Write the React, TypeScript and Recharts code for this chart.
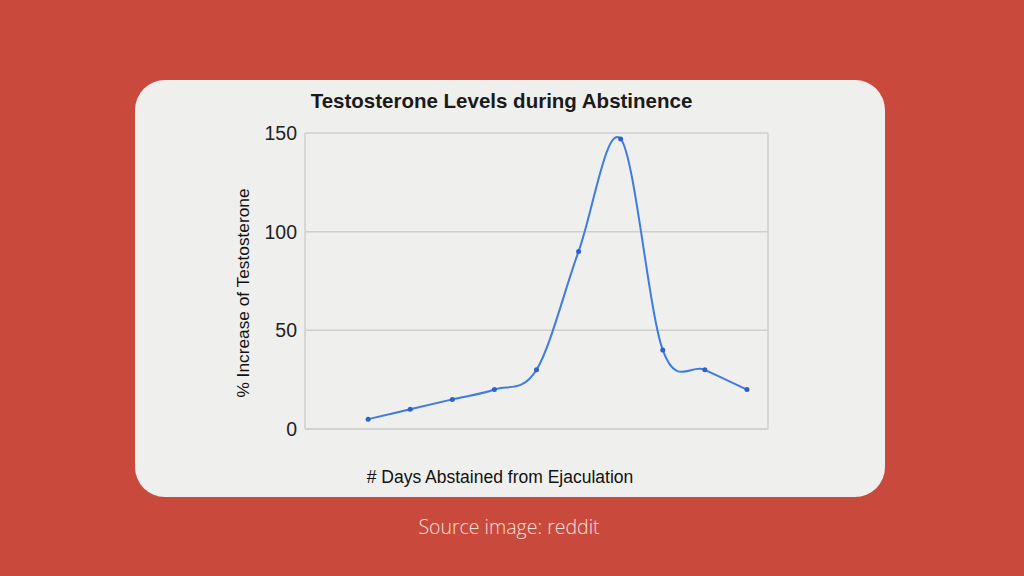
import { LineChart, Line, XAxis, YAxis, CartesianGrid, ReferenceLine, Label } from "recharts";

const days = [1, 2, 3, 4, 5, 6, 7, 8, 9, 10];
const increase = [5, 10, 15, 20, 30, 90, 147, 40, 30, 20];
const yTicks = [0, 50, 100, 150];
// excel puts the tick marks between categories
const xTickMarks = [-0.5, 0.5, 1.5, 2.5, 3.5, 4.5, 5.5, 6.5, 7.5, 8.5, 9.5, 10.5];

const chartTitle = "Testosterone Levels during Abstinence";
const yTitle = "% Increase of Testosterone";
const xTitle = "# Days Abstained from Ejaculation";
const sourceText = "Source image: reddit";

const data = days.map((day, i) => ({ day, value: increase[i] }));

// smoothed line like excel (catmull-rom as cubic beziers)
const excelCurve = (context: any) => {
  let pts: number[][] = [];
  return {
    areaStart() {},
    areaEnd() {},
    lineStart() {
      pts = [];
    },
    lineEnd() {
      const n = pts.length;
      if (!n) return;
      context.moveTo(pts[0][0], pts[0][1]);
      for (let i = 0; i < n - 1; i++) {
        const p0 = pts[i - 1] || pts[i];
        const p1 = pts[i];
        const p2 = pts[i + 1];
        const p3 = pts[i + 2] || p2;
        context.bezierCurveTo(
          p1[0] + (p2[0] - p0[0]) / 6,
          p1[1] + (p2[1] - p0[1]) / 6,
          p2[0] - (p3[0] - p1[0]) / 6,
          p2[1] - (p3[1] - p1[1]) / 6,
          p2[0],
          p2[1]
        );
      }
    },
    point(x: number, y: number) {
      pts.push([+x, +y]);
    },
  };
};

const font = "'Liberation Sans', Arial, sans-serif";
const gridColor = "#cfcfcf";

export default function App() {
  return (
    <div
      style={{
        position: "fixed",
        left: 0,
        top: 0,
        width: 1024,
        height: 576,
        background: "#c9493d",
        overflow: "hidden",
      }}
    >
      <div
        style={{
          position: "absolute",
          left: 135,
          top: 80,
          width: 750,
          height: 417,
          borderRadius: 30,
          background: "#efefed",
          overflow: "hidden",
        }}
      >
        <div
          style={{
            position: "absolute",
            left: 0,
            top: 10,
            width: 733,
            textAlign: "center",
            fontFamily: font,
            fontWeight: 700,
            fontSize: 20.5,
            lineHeight: "22px",
            color: "#1a1a1a",
          }}
        >
          {chartTitle}
        </div>
        <LineChart width={750} height={417} data={data} margin={{ top: 53, right: 117, bottom: 38, left: 46 }}>
          <CartesianGrid vertical={false} stroke={gridColor} strokeWidth={1.5} />
          <XAxis
            dataKey="day"
            type="number"
            domain={[-0.5, 10.5]}
            ticks={xTickMarks}
            tick={false}
            tickSize={4}
            tickLine={{ stroke: gridColor }}
            axisLine={{ stroke: gridColor, strokeWidth: 1.5 }}
            height={30}
          >
            <Label
              content={() => (
                <text x={365} y={403} textAnchor="middle" fontFamily={font} fontSize={17.5} fill="#111">
                  {xTitle}
                </text>
              )}
            />
          </XAxis>
          <YAxis
            domain={[0, 150]}
            ticks={yTicks}
            width={124}
            tickLine={false}
            axisLine={{ stroke: gridColor, strokeWidth: 1.5 }}
            tick={{ fontFamily: font, fontSize: 19.5, fill: "#222" }}
          >
            <Label
              content={() => (
                <text
                  x={114}
                  y={213}
                  transform="rotate(-90 114 213)"
                  textAnchor="middle"
                  fontFamily={font}
                  fontSize={17.3}
                  fill="#111"
                >
                  {yTitle}
                </text>
              )}
            />
          </YAxis>
          <ReferenceLine x={10.5} stroke={gridColor} strokeWidth={1.5} />
          <Line
            dataKey="value"
            type={excelCurve as any}
            stroke="#3f7be0"
            strokeWidth={2}
            dot={{ r: 2.5, fill: "#2d62c9", stroke: "none" }}
            isAnimationActive={false}
          />
        </LineChart>
      </div>
      <div
        style={{
          position: "absolute",
          left: 0,
          top: 514,
          width: 1018,
          textAlign: "center",
          fontFamily: "'Open Sans', sans-serif",
          fontWeight: 300,
          fontSize: 19.5,
          lineHeight: "26px",
          color: "#f8e0da",
        }}
      >
        {sourceText}
      </div>
    </div>
  );
}
